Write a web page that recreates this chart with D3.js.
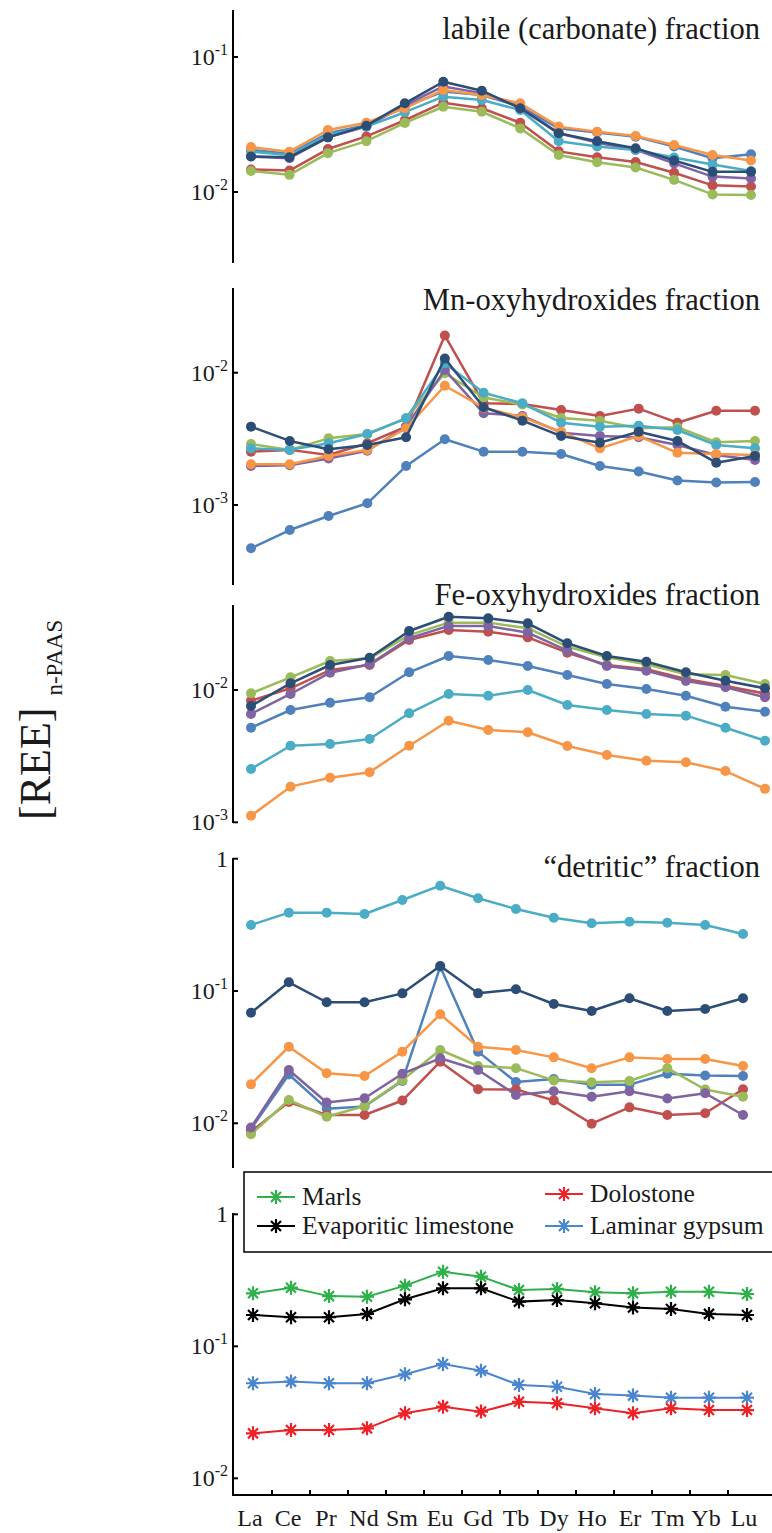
<!DOCTYPE html>
<html>
<head>
<meta charset="utf-8">
<script src="https://cdn.jsdelivr.net/npm/d3@7"></script>
<style>
  body { margin: 0; background: #fff; }
  svg { display: block; }
  svg text { font-family: "Liberation Serif", "Times New Roman", serif; }
</style>
</head>
<body>
<script>
// REE elements on the x axis
const elements = ["La","Ce","Pr","Nd","Sm","Eu","Gd","Tb","Dy","Ho","Er","Tm","Yb","Lu"];

// labile (carbonate) fraction
const labileBlue   = [0.0205,0.0192,0.0272,0.0313,0.043,0.0555,0.0523,0.043,0.0296,0.0276,0.0257,0.0217,0.0178,0.019];
const labileRed    = [0.0147,0.0144,0.0208,0.0258,0.034,0.0459,0.0417,0.0326,0.02,0.0181,0.0167,0.0139,0.0112,0.011];
const labileGreen  = [0.0143,0.0134,0.0194,0.0238,0.0325,0.0428,0.0393,0.0296,0.0188,0.0166,0.0152,0.0123,0.0096,0.0095];
const labilePurple = [0.0183,0.0178,0.0254,0.0305,0.044,0.0605,0.054,0.0428,0.0272,0.0232,0.0205,0.0163,0.013,0.0126];
const labileCyan   = [0.0199,0.0188,0.0264,0.0305,0.039,0.0508,0.048,0.0405,0.0238,0.0217,0.0205,0.018,0.016,0.0143];
const labileOrange = [0.0215,0.0199,0.0288,0.0326,0.0417,0.057,0.0523,0.0454,0.0305,0.028,0.026,0.0223,0.0188,0.0171];
const labileNavy   = [0.0183,0.0181,0.0254,0.031,0.0454,0.0656,0.0563,0.0417,0.0272,0.0238,0.0211,0.0171,0.0141,0.0141];

// Mn-oxyhydroxides fraction
const mnBlue   = [0.000471,0.000647,0.000826,0.00103,0.00197,0.00314,0.00253,0.00253,0.00243,0.00197,0.00179,0.00153,0.00148,0.00149];
const mnRed    = [0.00253,0.00261,0.00239,0.00293,0.00391,0.0191,0.00587,0.0058,0.00523,0.00471,0.00535,0.00419,0.00516,0.00516];
const mnGreen  = [0.00289,0.00261,0.00319,0.00344,0.00452,0.0099,0.0065,0.00575,0.00455,0.00434,0.0038,0.00387,0.00298,0.00305];
const mnPurple = [0.00197,0.002,0.00225,0.00257,0.00391,0.0105,0.00493,0.00471,0.00352,0.00332,0.00325,0.00284,0.00239,0.00219];
const mnCyan   = [0.00268,0.00261,0.00293,0.00344,0.00452,0.0118,0.00706,0.00587,0.00419,0.00391,0.00398,0.00369,0.00284,0.00268];
const mnOrange = [0.00203,0.00203,0.00235,0.00261,0.0038,0.00797,0.00544,0.0046,0.00358,0.00268,0.00332,0.00248,0.00243,0.00239];
const mnNavy   = [0.00391,0.00305,0.00264,0.00284,0.00325,0.0128,0.00548,0.00434,0.00332,0.00296,0.00358,0.00305,0.00209,0.00235];

// Fe-oxyhydroxides fraction
const feBlue   = [0.00519,0.00706,0.00802,0.00881,0.01361,0.01807,0.01686,0.01518,0.01298,0.0111,0.01018,0.00906,0.00748,0.00685];
const feRed    = [0.0083,0.0103,0.01416,0.01545,0.02387,0.0284,0.0276,0.025,0.01914,0.01545,0.01433,0.0121,0.01072,0.0094];
const feGreen  = [0.00944,0.01247,0.01656,0.01736,0.026,0.0323,0.0323,0.0293,0.02125,0.01767,0.01564,0.01314,0.01298,0.0111];
const fePurple = [0.00659,0.00933,0.01351,0.01564,0.0246,0.0305,0.0305,0.0271,0.01982,0.01518,0.014,0.0117,0.01048,0.00881];
const feCyan   = [0.00253,0.00379,0.00391,0.00426,0.00667,0.00933,0.00906,0.01,0.0077,0.00706,0.00659,0.0064,0.00519,0.00414];
const feOrange = [0.00112,0.00186,0.00217,0.00239,0.00379,0.00586,0.00499,0.00479,0.00377,0.00323,0.00292,0.00284,0.00244,0.00179];
const feNavy   = [0.00757,0.01124,0.01545,0.01754,0.0279,0.0358,0.0348,0.0319,0.02254,0.01807,0.01637,0.01361,0.01176,0.0103];

// "detritic" fraction
const detBlue   = [0.00906,0.0234,0.0129,0.0134,0.0209,0.1527,0.0348,0.0205,0.0216,0.0196,0.0196,0.0237,0.023,0.0228];
const detRed    = [0.00865,0.01449,0.01156,0.01156,0.01486,0.0292,0.0181,0.018,0.0149,0.00993,0.0132,0.01156,0.0119,0.0181];
const detGreen  = [0.00826,0.015,0.0112,0.0135,0.0212,0.0358,0.0271,0.0261,0.0211,0.0204,0.0209,0.0261,0.018,0.0159];
const detPurple = [0.0093,0.0253,0.01436,0.01545,0.0237,0.031,0.0253,0.01637,0.01746,0.0159,0.01746,0.0154,0.01686,0.01156];
const detCyan   = [0.3155,0.391,0.391,0.382,0.4875,0.625,0.502,0.417,0.358,0.325,0.334,0.328,0.3155,0.27];
const detOrange = [0.0197,0.0379,0.0239,0.0228,0.0348,0.0667,0.0379,0.0358,0.0315,0.0261,0.0315,0.0306,0.0306,0.0271];
const detNavy   = [0.0685,0.1164,0.0822,0.0822,0.096,0.1545,0.096,0.103,0.0797,0.0706,0.0881,0.0706,0.0731,0.0881];

// bulk rock
const marls     = [0.252,0.278,0.24,0.2375,0.288,0.367,0.337,0.267,0.272,0.257,0.252,0.259,0.259,0.249];
const evapLime  = [0.1726,0.166,0.166,0.176,0.227,0.275,0.275,0.218,0.224,0.212,0.197,0.192,0.176,0.1726];
const gypsum    = [0.0525,0.054,0.0525,0.0525,0.0614,0.0735,0.0653,0.0509,0.0494,0.0435,0.0423,0.0408,0.0408,0.0408];
const dolostone = [0.0219,0.0232,0.0232,0.0239,0.0311,0.0349,0.032,0.038,0.037,0.0339,0.0311,0.0339,0.0329,0.0329];

const palette = ["#4f81bd","#c0504d","#9bbb59","#8064a2","#4bacc6","#f79646","#2c4d75"];

const W = 772, H = 1533;
const axisX = 233;

const svg = d3.select("body").append("svg")
  .attr("width", W)
  .attr("height", H);

const panels = [
  {title: "labile (carbonate) fraction", titleY: 39, series: [labileBlue,labileRed,labileGreen,labilePurple,labileCyan,labileOrange,labileNavy],
   top: 10, bottom: 263, ticks: [0.1, 0.01], tickPx: [57, 192], x0: 251, x1: 751},
  {title: "Mn-oxyhydroxides fraction", titleY: 310, series: [mnBlue,mnRed,mnGreen,mnPurple,mnCyan,mnOrange,mnNavy],
   top: 288, bottom: 585, ticks: [0.01, 0.001], tickPx: [372.7, 505], x0: 251, x1: 755},
  {title: "Fe-oxyhydroxides fraction", titleY: 605, series: [feBlue,feRed,feGreen,fePurple,feCyan,feOrange,feNavy],
   top: 605, bottom: 823, ticks: [0.01, 0.001], tickPx: [690, 822.3], x0: 251, x1: 765},
  {title: "\u201cdetritic\u201d fraction", titleY: 877, series: [detBlue,detRed,detGreen,detPurple,detCyan,detOrange,detNavy],
   top: 858, bottom: 1168, ticks: [1, 0.1, 0.01], tickPx: [858.7, 991, 1123.3], x0: 251, x1: 743}
];

// tick label like 10^-2 with a superscript
function tickLabel(g, v, y) {
  const t = g.append("text")
    .attr("x", 228)
    .attr("y", y + 8)
    .attr("text-anchor", "end")
    .attr("font-size", 24)
    .attr("fill", "#1a1a1a");
  const e = Math.round(Math.log10(v));
  if (e === 0) { t.text("1"); return; }
  t.append("tspan").text("10");
  t.append("tspan").attr("font-size", 16).attr("dy", -10).text(String(e));
}

function yAxis(g, p, y) {
  g.append("line")
    .attr("x1", axisX).attr("x2", axisX)
    .attr("y1", p.top).attr("y2", p.bottom)
    .attr("stroke", "#000").attr("stroke-width", 2);
  g.selectAll(".ytick").data(p.ticks).enter().append("line")
    .attr("class", "ytick")
    .attr("x1", axisX).attr("x2", axisX + 5)
    .attr("y1", d => y(d)).attr("y2", d => y(d))
    .attr("stroke", "#000").attr("stroke-width", 2);
  p.ticks.forEach(v => tickLabel(g, v, y(v)));
}

panels.forEach(p => {
  const g = svg.append("g");
  const x = d3.scalePoint().domain(elements).range([p.x0, p.x1]);
  const y = d3.scaleLog().domain([p.ticks[p.ticks.length - 1], p.ticks[0]])
    .range([p.tickPx[p.tickPx.length - 1], p.tickPx[0]]);

  yAxis(g, p, y);

  g.append("text")
    .attr("x", 760).attr("y", p.titleY)
    .attr("text-anchor", "end")
    .attr("font-size", 30.6)
    .attr("fill", "#1a1a1a")
    .text(p.title);

  const line = d3.line().x((d, i) => x(elements[i])).y(d => y(d));

  p.series.forEach((s, k) => {
    const sg = g.append("g");
    sg.append("path")
      .datum(s)
      .attr("d", line)
      .attr("fill", "none")
      .attr("stroke", palette[k])
      .attr("stroke-width", 2.5)
      .attr("stroke-linejoin", "round");
    sg.selectAll("circle").data(s).enter().append("circle")
      .attr("cx", (d, i) => x(elements[i]))
      .attr("cy", d => y(d))
      .attr("r", 5)
      .attr("fill", palette[k]);
  });
});

// bottom panel: bulk rock samples with asterisk markers
const bulk = {top: 1213, bottom: 1495, ticks: [1, 0.1, 0.01], tickPx: [1214.3, 1346.3, 1478.3]};
const bulkSeries = [
  {name: "Marls", values: marls, color: "#2fb04b"},
  {name: "Evaporitic limestone", values: evapLime, color: "#000000"},
  {name: "Laminar gypsum", values: gypsum, color: "#4a86cf"},
  {name: "Dolostone", values: dolostone, color: "#ec2227"}
];

const xb = d3.scalePoint().domain(elements).range([253, 747]);
const yb = d3.scaleLog().domain([0.01, 1]).range([1478.3, 1214.3]);
const gb = svg.append("g");
yAxis(gb, bulk, yb);

const star = "M-7,0H7M0,-7V7M-5,-5L5,5M-5,5L5,-5";
const lineB = d3.line().x((d, i) => xb(elements[i])).y(d => yb(d));

bulkSeries.forEach(s => {
  const sg = gb.append("g");
  sg.append("path")
    .datum(s.values)
    .attr("d", lineB)
    .attr("fill", "none")
    .attr("stroke", s.color)
    .attr("stroke-width", 2);
  sg.selectAll(".mk").data(s.values).enter().append("path")
    .attr("class", "mk")
    .attr("transform", (d, i) => `translate(${xb(elements[i])},${yb(d)})`)
    .attr("d", star)
    .attr("fill", "none")
    .attr("stroke", s.color)
    .attr("stroke-width", 2.2);
});

// x axis
const step = xb.step();
gb.append("line")
  .attr("x1", axisX - 1).attr("x2", W)
  .attr("y1", bulk.bottom).attr("y2", bulk.bottom)
  .attr("stroke", "#000").attr("stroke-width", 2);
gb.selectAll(".xtick").data(elements.slice(1)).enter().append("line")
  .attr("class", "xtick")
  .attr("x1", d => xb(d) - step / 2).attr("x2", d => xb(d) - step / 2)
  .attr("y1", bulk.bottom).attr("y2", bulk.bottom - 5)
  .attr("stroke", "#000").attr("stroke-width", 2);
gb.selectAll(".xlab").data(elements).enter().append("text")
  .attr("class", "xlab")
  .attr("x", d => xb(d) - 3)
  .attr("y", 1526)
  .attr("text-anchor", "middle")
  .attr("font-size", 24)
  .attr("fill", "#1a1a1a")
  .text(d => d);

// legend
const lg = svg.append("g");
lg.append("rect")
  .attr("x", 244).attr("y", 1172)
  .attr("width", 540).attr("height", 80)
  .attr("fill", "#fff")
  .attr("stroke", "#000").attr("stroke-width", 1.5);

const legendItems = [
  {s: bulkSeries[0], x: 257, y: 1197},
  {s: bulkSeries[1], x: 257, y: 1226},
  {s: bulkSeries[3], x: 545, y: 1194},
  {s: bulkSeries[2], x: 545, y: 1226}
];
legendItems.forEach(it => {
  lg.append("line")
    .attr("x1", it.x).attr("x2", it.x + 38)
    .attr("y1", it.y).attr("y2", it.y)
    .attr("stroke", it.s.color).attr("stroke-width", 2);
  lg.append("path")
    .attr("transform", `translate(${it.x + 19},${it.y})`)
    .attr("d", star)
    .attr("fill", "none")
    .attr("stroke", it.s.color).attr("stroke-width", 2.2);
  lg.append("text")
    .attr("x", it.x + 45).attr("y", it.y + 8)
    .attr("font-size", 25.5)
    .attr("fill", "#1a1a1a")
    .text(it.s.name);
});

// y axis title
const yt = svg.append("text")
  .attr("transform", "translate(50,820) rotate(-90)")
  .attr("fill", "#1a1a1a");
yt.append("tspan").attr("font-size", 44).text("[REE]");
yt.append("tspan").attr("font-size", 23).attr("dx", 12).attr("dy", 12).text("n-PAAS");
</script>
</body>
</html>
